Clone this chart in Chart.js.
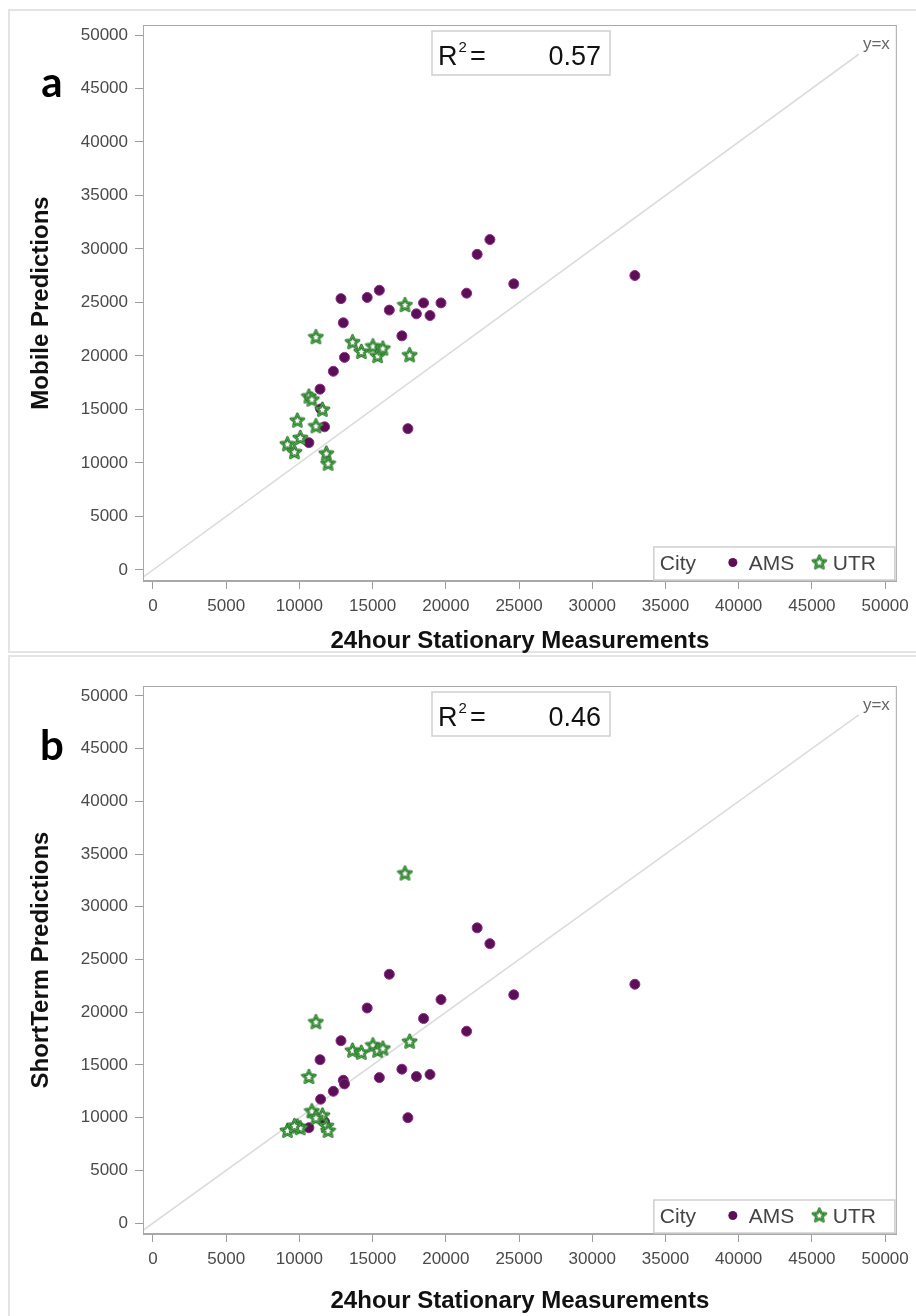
<!DOCTYPE html>
<html>
<head>
<meta charset="utf-8">
<title>Mobile and ShortTerm predictions vs 24hour stationary measurements</title>
<script src="https://cdn.jsdelivr.net/npm/chart.js@4.4.1/dist/chart.umd.min.js"></script>
<style>
  body { margin: 0; background: #fff; width: 916px; height: 1316px; position: relative; overflow: hidden; }
  .frame { position: absolute; left: 8px; width: 912px; border: 2px solid #e4e4e4; border-right: none; }
  #frameA { top: 9px; height: 640px; }
  #frameB { top: 655px; height: 664px; }
  canvas { position: absolute; left: 0; }
  #chartA { top: 0; }
  #chartB { top: 656px; }
</style>
</head>
<body>
<div class="frame" id="frameA"></div>
<div class="frame" id="frameB"></div>
<canvas id="chartA" width="916" height="656"></canvas>
<canvas id="chartB" width="916" height="660"></canvas>

<script>
// tick labels on both axes
const tickValues = [0, 5000, 10000, 15000, 20000, 25000, 30000, 35000, 40000, 45000, 50000];
const cities = ['AMS', 'UTR'];

// AMS sites: 24h stationary, mobile prediction, short-term prediction
const amsStationary = [12840, 14630, 15460, 13000, 16140, 18480, 19670, 17990, 18920, 21420, 22140,
                       23010, 24640, 32910, 17000, 13080, 12320, 11410, 11450, 11720, 10650, 17410];
const amsMobile     = [25360, 25470, 26140, 23100, 24290, 24960, 24960, 23940, 23780, 25870, 29500,
                       30880, 26740, 27520, 21880, 19870, 18570, 16900, 15050, 13380, 11900, 13210];
const amsShortTerm  = [17300, 20400, 13800, 13550, 23600, 19400, 21200, 13900, 14100, 18200, 28000,
                       26500, 21650, 22650, 14600, 13200, 12500, 15500, 11750, 9600, 9050, 10000];

// UTR sites
const utrStationary = [11130, 17210, 13630, 14230, 15020, 15340, 15700, 17530, 10650, 10850,
                       11570, 9860, 11130, 10060, 9180, 9660, 11840, 11960];
const utrMobile     = [21800, 24800, 21330, 20430, 20940, 20030, 20740, 20110, 16250, 15970,
                       15020, 14000, 13480, 12380, 11790, 11050, 10920, 9980];
const utrShortTerm  = [19100, 33200, 16400, 16200, 16900, 16400, 16600, 17250, 13900, 10650,
                       10250, 9200, 10000, 9050, 8800, 9250, 9250, 8800];

const r2Values = ['0.57', '0.46'];
const refLine = [-700, 48200];   // y=x line, drawn from corner up to its label

const FONT = "'Liberation Sans', Arial, sans-serif";
const AMS_FILL = '#5a0f56';
const AMS_EDGE = '#8d2c86';

function makeStar(size) {
  const c = document.createElement('canvas');
  c.width = size; c.height = size;
  const g = c.getContext('2d');
  const cx = size / 2, cy = size / 2 + 0.6, R = size / 2 - 1.6, r = R * 0.46;
  g.beginPath();
  for (let i = 0; i < 10; i++) {
    const a = -Math.PI / 2 + i * Math.PI / 5;
    const rad = i % 2 ? r : R;
    g.lineTo(cx + rad * Math.cos(a), cy + rad * Math.sin(a));
  }
  g.closePath();
  g.fillStyle = '#f3faf1';
  g.fill();
  g.lineJoin = 'round';
  g.strokeStyle = '#235f23';
  g.lineWidth = 2.6;
  g.stroke();
  g.strokeStyle = '#47b347';
  g.lineWidth = 1.1;
  g.stroke();
  return c;
}
const starImg = makeStar(17);

// frame, R² box, y=x label, in-plot legend, panel letter
const decor = {
  id: 'decor',
  afterDraw(chart, args, opts) {
    const { ctx, chartArea: a } = chart;
    ctx.save();
    ctx.strokeStyle = '#a8a8a8';
    ctx.lineWidth = 1;
    ctx.strokeRect(a.left + 0.5, a.top + 0.5, a.right - a.left - 1, a.bottom - a.top - 1);

    // R² box
    const bx = a.left + 289, by = a.top + 6, bw = 178, bh = 44;
    ctx.fillStyle = '#fff';
    ctx.fillRect(bx, by, bw, bh);
    ctx.strokeStyle = '#cfcfcf';
    ctx.lineWidth = 1.5;
    ctx.strokeRect(bx, by, bw, bh);
    ctx.fillStyle = '#111';
    ctx.textBaseline = 'alphabetic';
    ctx.textAlign = 'left';
    ctx.font = '27px ' + FONT;
    const base = by + 34;
    ctx.fillText('R', bx + 6, base);
    const rw = ctx.measureText('R').width;
    ctx.font = '15px ' + FONT;
    ctx.fillText('2', bx + 7 + rw, base - 13);
    ctx.font = '27px ' + FONT;
    ctx.fillText('=', bx + 38, base);
    ctx.textAlign = 'right';
    ctx.fillText(opts.r2, bx + bw - 9, base);

    // y=x label
    ctx.font = '17px ' + FONT;
    ctx.fillStyle = '#666';
    ctx.textAlign = 'right';
    ctx.textBaseline = 'middle';
    ctx.fillText('y=x', a.right - 7, a.top + 19);

    // legend
    const lx = a.right - 243, ly = a.bottom - 34, lw = 241, lh = 33;
    ctx.fillStyle = '#fff';
    ctx.fillRect(lx, ly, lw, lh);
    ctx.strokeStyle = '#cfcfcf';
    ctx.lineWidth = 1.5;
    ctx.strokeRect(lx, ly, lw, lh);
    const my = ly + lh / 2 + 1;
    ctx.font = '21px ' + FONT;
    ctx.fillStyle = '#444';
    ctx.textAlign = 'left';
    ctx.fillText('City', lx + 6, my);
    ctx.beginPath();
    ctx.arc(lx + 79, my - 2, 4.5, 0, Math.PI * 2);
    ctx.fillStyle = AMS_FILL;
    ctx.fill();
    ctx.fillStyle = '#444';
    ctx.fillText(cities[0], lx + 95, my);
    ctx.drawImage(starImg, lx + 157, my - 11);
    ctx.fillText(cities[1], lx + 179, my);

    // panel letter
    ctx.font = 'bold 42px Lato, ' + FONT;
    ctx.fillStyle = '#000';
    ctx.textAlign = 'center';
    ctx.textBaseline = 'alphabetic';
    ctx.fillText(opts.letter, 52, opts.letterY);
    ctx.restore();
  }
};

function axis(title, min, max, fitFn) {
  return {
    type: 'linear',
    min: min,
    max: max,
    afterBuildTicks: s => { s.ticks = tickValues.map(v => ({ value: v })); },
    afterFit: fitFn,
    grid: { drawOnChartArea: false, drawTicks: true, tickLength: 8, color: '#9c9c9c' },
    border: { display: true, color: '#a8a8a8' },
    ticks: {
      font: { size: 17, family: FONT },
      color: '#4a4a4a',
      padding: 7,
      maxRotation: 0,
      autoSkip: false,
      callback: v => String(v)
    },
    title: {
      display: true,
      text: title,
      color: '#111',
      font: { size: 24, weight: 'bold', family: FONT },
      padding: { top: 27, bottom: 0 }
    }
  };
}

function makeChart(id, yTitle, amsY, utrY, r2, letter, letterY, top, bottom) {
  const canvas = document.getElementById(id);
  const H = canvas.height;
  const ams = amsStationary.map((x, i) => ({ x: x, y: amsY[i] }));
  const utr = utrStationary.map((x, i) => ({ x: x, y: utrY[i] }));

  const xAxis = axis('24hour Stationary Measurements', -680, 50800, s => { s.height = H - bottom; });
  xAxis.title.padding = { top: 0, bottom: 0 };
  const yAxis = axis(yTitle, -1030, 50935, s => { s.width = 143; });

  return new Chart(canvas, {
    type: 'scatter',
    data: {
      datasets: [
        {
          type: 'line',
          label: 'y=x',
          data: refLine.map(v => ({ x: v, y: v })),
          borderColor: '#dcdcdc',
          borderWidth: 1.6,
          pointRadius: 0,
          order: 3
        },
        {
          label: cities[0],
          data: ams,
          pointStyle: 'circle',
          pointRadius: 5,
          backgroundColor: AMS_FILL,
          borderColor: AMS_EDGE,
          borderWidth: 1,
          order: 2
        },
        {
          label: cities[1],
          data: utr,
          pointStyle: starImg,
          pointRadius: 8,
          order: 1
        }
      ]
    },
    options: {
      responsive: false,
      animation: false,
      events: [],
      layout: { padding: { left: 0, right: 16, top: top, bottom: 0 } },
      plugins: {
        legend: { display: false },
        tooltip: { enabled: false },
        decor: { r2: r2, letter: letter, letterY: letterY }
      },
      scales: { x: xAxis, y: yAxis }
    },
    plugins: [decor]
  });
}

makeChart('chartA', 'Mobile Predictions', amsMobile, utrMobile, r2Values[0], 'a', 97, 25, 581);
makeChart('chartB', 'ShortTerm Predictions', amsShortTerm, utrShortTerm, r2Values[1], 'b', 104, 30, 578);
</script>
</body>
</html>
